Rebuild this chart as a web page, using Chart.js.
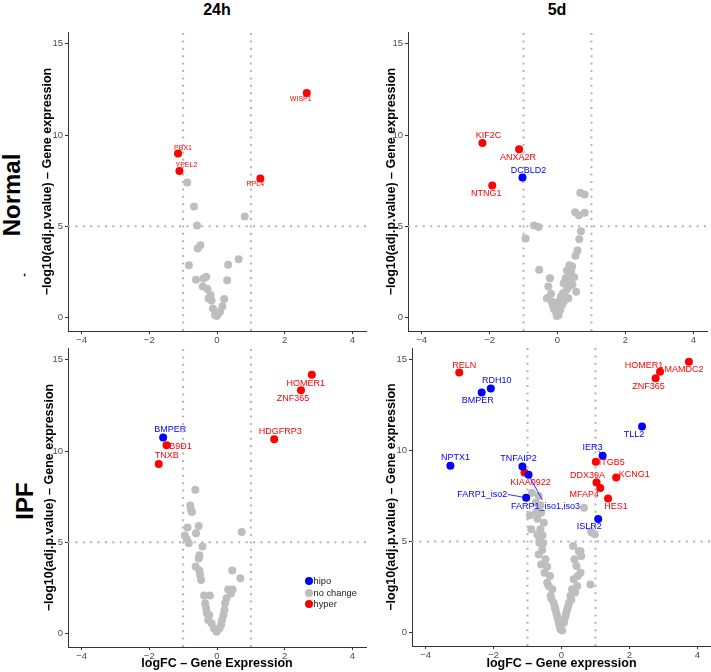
<!DOCTYPE html>
<html>
<head>
<meta charset="utf-8">
<script src="https://cdn.jsdelivr.net/npm/chart.js@4.4.1/dist/chart.umd.min.js"></script>
<style>
  body { margin: 0; width: 711px; height: 672px; background: #fff; position: relative; overflow: hidden;
         font-family: "Liberation Sans", Arial, sans-serif; }
  canvas { position: absolute; }
  .strip { position: absolute; font-weight: bold; color: #000; white-space: nowrap; line-height: 1;
           transform: translate(-50%, -50%); }
  .row { transform: translate(-50%, -50%) rotate(-90deg); }
  .key { position: absolute; left: 304.5px; top: 576px; font-size: 9.3px; color: #1a1a1a; line-height: 11.5px; }
  .key i { display: inline-block; width: 8px; height: 8px; border-radius: 50%; margin-right: 1px; vertical-align: -1px; }
</style>
</head>
<body>
<div class="strip" style="left:217px;top:10px;font-size:16px">24h</div>
<div class="strip" style="left:557px;top:10px;font-size:16px">5d</div>
<div class="strip row" style="left:11.5px;top:195px;font-size:24px">Normal</div>
<div class="strip row" style="left:23px;top:275px;font-size:11px">-</div>
<div class="strip row" style="left:24.5px;top:501px;font-size:24px">IPF</div>

<canvas id="n24" width="329" height="324" style="left:39px;top:24px"></canvas>
<canvas id="n5d" width="326" height="324" style="left:383px;top:24px"></canvas>
<canvas id="ipf24" width="327" height="332" style="left:41px;top:340px"></canvas>
<canvas id="ipf5d" width="328" height="332" style="left:383px;top:340px"></canvas>

<div class="key">
  <div><i style="background:#0000ff"></i>hipo</div>
  <div><i style="background:#bebebe"></i>no change</div>
  <div><i style="background:#ff0000"></i>hyper</div>
</div>

<script>
// axes
const xTicks = [-4, -2, 0, 2, 4];
const yTicks = [0, 5, 10, 15];
const xMin = -4.4, xMax = 4.4;
const yMin = -0.75, yMax = 15.65;
const logFcCut = 1;     // dotted lines at +-1
const pvalCut = 5;      // dotted line at 5

// labelled genes: [name, logFC, -log10(adj.p), direction]
const n24Genes = [
  ['WISP1', 2.65, 12.30, 'hyper'],
  ['PBX1', -1.15, 8.98, 'hyper'],
  ['YPEL2', -1.11, 8.02, 'hyper'],
  ['RPL4', 1.28, 7.62, 'hyper']
];
const n5dGenes = [
  ['KIF2C', -2.21, 9.56, 'hyper'],
  ['ANXA2R', -1.13, 9.22, 'hyper'],
  ['DCBLD2', -1.03, 7.67, 'hipo'],
  ['NTNG1', -1.92, 7.23, 'hyper']
];
const ipf24Genes = [
  ['HOMER1', 2.80, 14.18, 'hyper'],
  ['ZNF365', 2.48, 13.33, 'hyper'],
  ['HDGFRP3', 1.69, 10.65, 'hyper'],
  ['BMPER', -1.59, 10.74, 'hipo'],
  ['B9D1', -1.49, 10.32, 'hyper'],
  ['TNXB', -1.72, 9.29, 'hyper']
];
const ipf5dGenes = [
  ['MAMDC2', 3.75, 14.89, 'hyper'],
  ['HOMER1', 2.90, 14.34, 'hyper'],
  ['ZNF365', 2.77, 13.99, 'hyper'],
  ['RELN', -3.01, 14.30, 'hyper'],
  ['RDH10', -2.08, 13.42, 'hipo'],
  ['BMPER', -2.35, 13.20, 'hipo'],
  ['TLL2', 2.37, 11.33, 'hipo'],
  ['IER3', 1.21, 9.72, 'hipo'],
  ['ITGB5', 1.01, 9.39, 'hyper'],
  ['DDX39A', 1.03, 8.25, 'hyper'],
  ['KCNG1', 1.61, 8.53, 'hyper'],
  ['MFAP4', 1.14, 7.94, 'hyper'],
  ['HES1', 1.37, 7.37, 'hyper'],
  ['ISLR2', 1.08, 6.24, 'hipo'],
  ['NPTX1', -3.27, 9.17, 'hipo'],
  ['TNFAIP2', -1.15, 9.13, 'hipo'],
  ['KIAA0922', -1.09, 8.80, 'hyper'],
  ['FARP1_iso1,iso3', -0.97, 8.67, 'hipo'],
  ['FARP1_iso2', -1.04, 7.41, 'hipo']
];

// unchanged genes: [logFC, -log10(adj.p)]
const n24Rest = [
  [-0.88, 7.40], [-0.68, 6.08], [0.82, 5.53], [-0.59, 5.03], [-0.49, 3.95], [-0.57, 3.77],
  [0.64, 3.18], [-0.83, 2.86], [0.33, 2.88], [-0.62, 2.06], [-0.32, 2.22], [-0.40, 2.13],
  [0.30, 2.04], [-0.42, 1.69], [-0.28, 1.56], [-0.19, 1.23], [-0.25, 1.03], [-0.16, 0.92],
  [0.21, 1.01], [0.16, 0.61], [-0.12, 0.48], [0.09, 0.31], [-0.01, 0.07], [0.03, 0.18], [-0.06, 0.13]
];
const n5dRest = [
  [0.67, 6.83], [0.80, 6.74], [0.52, 5.76], [0.63, 5.60], [0.80, 5.73], [-0.69, 5.03], [-0.56, 4.96],
  [0.69, 4.72], [-0.94, 4.33], [0.64, 4.28], [0.59, 3.67], [0.53, 3.38], [0.35, 2.85], [0.43, 2.79],
  [0.28, 2.57], [0.40, 2.52], [-0.54, 2.61], [-0.22, 2.15], [0.24, 2.15], [0.35, 2.09], [0.28, 1.96],
  [0.44, 1.78], [-0.27, 1.69], [0.55, 1.40], [-0.19, 1.29], [-0.31, 1.05], [0.16, 1.32], [0.23, 1.14],
  [0.32, 1.05], [-0.14, 0.68], [-0.10, 0.44], [-0.04, 0.26], [-0.02, 0.07], [0.03, 0.11], [0.08, 0.40],
  [0.13, 0.68], [0.18, 0.86], [0.26, 1.05], [-0.17, 0.86], [0.28, 1.54], [0.37, 2.33], [0.49, 2.20],
  [0.18, 1.87], [0.33, 1.69], [0.10, 1.14], [0.03, 0.86], [-0.07, 0.59]
];
const ipf24Rest = [
  [-0.64, 7.87], [-0.79, 7.01], [-0.77, 6.77], [-0.74, 6.66], [-0.54, 5.89], [-0.87, 5.80],
  [-0.62, 5.49], [0.73, 5.56], [-0.95, 5.36], [-0.89, 5.16], [-0.83, 4.94], [-0.43, 4.76],
  [-0.52, 4.28], [-0.54, 4.10], [-0.63, 3.66], [-0.52, 3.44], [-0.50, 3.20], [-0.47, 2.93],
  [0.45, 3.44], [0.69, 3.02], [0.33, 2.41], [0.46, 2.41], [0.41, 2.19], [0.28, 1.92],
  [-0.38, 2.07], [-0.21, 2.07], [-0.35, 1.65], [-0.32, 1.37], [-0.30, 1.10], [-0.26, 0.73],
  [0.24, 1.65], [0.22, 1.28], [0.19, 1.01], [0.15, 0.73], [-0.16, 0.55], [-0.09, 0.27],
  [-0.01, 0.09], [0.07, 0.27], [0.12, 0.46], [-0.23, 1.01]
];
const ipf5dRest = [
  [-0.87, 7.68], [-0.67, 7.50], [-0.76, 7.13], [-0.62, 6.99], [-0.74, 6.62], [-0.60, 6.58],
  [-0.71, 6.25], [-0.52, 6.03], [-0.62, 5.67], [-0.56, 5.34], [-0.65, 5.08], [-0.54, 4.90],
  [-0.93, 6.44], [-0.89, 5.67], [-0.71, 5.39], [-0.65, 4.93], [-0.57, 4.53], [-0.67, 4.29],
  [-0.47, 4.02], [-0.60, 3.74], [-0.42, 3.61], [-0.50, 3.28], [-0.34, 3.10], [-0.42, 2.73],
  [-0.27, 2.37], [-0.32, 2.00], [-0.23, 1.63], [-0.18, 1.27], [-0.13, 0.90], [-0.08, 0.53],
  [-0.03, 0.17], [-0.38, 2.55], [-0.30, 1.85], [-0.20, 1.40], [-0.15, 1.05], [-0.10, 0.70],
  [-0.05, 0.35], [0.66, 6.86], [0.87, 5.57], [0.34, 4.75], [0.51, 4.47], [0.58, 4.20],
  [0.38, 4.02], [0.85, 2.64], [0.56, 4.47], [0.44, 3.65], [0.56, 3.28], [0.36, 2.92],
  [0.46, 2.55], [0.31, 2.37], [0.26, 2.00], [0.22, 1.63], [0.17, 1.27], [0.12, 0.90],
  [0.07, 0.53], [0.02, 0.10], [0.29, 1.80], [0.40, 2.20], [0.20, 1.45], [0.14, 1.10],
  [0.09, 0.72], [0.48, 3.10], [0.98, 5.40], [0.89, 5.50]
];

// label placement (pixel nudge from point; optional segment end)
const n24Nudge = { WISP1: [-6, 6], PBX1: [5, -6], YPEL2: [7, -6], RPL4: [-5, 6] };
const n5dNudge = { KIF2C: [6, -8], ANXA2R: [-1, 8], DCBLD2: [6, -7], NTNG1: [-6, 8] };
const ipf24Nudge = { HOMER1: [-6, 9], ZNF365: [-8, 8], HDGFRP3: [6, -8], BMPER: [7, -8], B9D1: [14, 1], TNXB: [8, -8] };
const ipf5dNudge = {
  MAMDC2: [-5, 8], HOMER1: [-16, -6], ZNF365: [-7, 8], RELN: [5, -7], RDH10: [6, -8], BMPER: [-4, 8],
  TLL2: [-8, 8], IER3: [-10, -8, -1, -1, -4, -5], ITGB5: [16, 1], DDX39A: [-9, -7], KCNG1: [18, -3],
  MFAP4: [-16, 6], HES1: [8, 8], ISLR2: [-9, 8], NPTX1: [5, -8], TNFAIP2: [-4, -8], KIAA0922: [6, 10],
  'FARP1_iso1,iso3': [17, 32, 0, 0, 13.7, 25], FARP1_iso2: [-44, -3, 0, 0, -18.5, -3.3]
};

const grey = '#bebebe', red = '#ff0000', blue = '#0000ff', axisCol = '#333333';
const fontFam = '"Liberation Sans", Arial, sans-serif';
Chart.defaults.font.family = fontFam;

const geneLabels = {
  id: 'geneLabels',
  afterDatasetsDraw(chart, args, opts) {
    const ctx = chart.ctx;
    chart.data.datasets.forEach((ds, i) => {
      if (!ds.names) return;
      const meta = chart.getDatasetMeta(i);
      ctx.save();
      ctx.font = opts.size + 'px ' + fontFam;
      ctx.fillStyle = ds.backgroundColor;
      ctx.strokeStyle = ds.backgroundColor;
      ctx.lineWidth = 0.8;
      ctx.textAlign = 'center';
      ctx.textBaseline = 'middle';
      meta.data.forEach((pt, j) => {
        const nd = opts.nudge[ds.names[j]] || [0, -7];
        if (nd.length > 2) {
          ctx.beginPath();
          ctx.moveTo(pt.x + nd[2], pt.y + nd[3]);
          ctx.lineTo(pt.x + nd[4], pt.y + nd[5]);
          ctx.stroke();
        }
        ctx.fillText(ds.names[j], pt.x + nd[0], pt.y + nd[1]);
      });
      ctx.restore();
    });
  }
};

function guide(v, dir) {
  const pts = dir === 'v' ? [{x: v, y: yMin}, {x: v, y: yMax}] : [{x: xMin, y: v}, {x: xMax, y: v}];
  return {
    type: 'line', data: pts, borderColor: '#b3b3b3', borderWidth: 2, borderDash: [2, 5.4],
    borderCapStyle: 'butt', pointRadius: 0, fill: false, order: 10
  };
}

function tickText(v) {
  return v < 0 ? '\u2212' + Math.abs(v) : String(v);
}

function volcano(id, rest, genes, nudge, o) {
  const hyper = genes.filter(g => g[3] === 'hyper');
  const hipo = genes.filter(g => g[3] === 'hipo');
  new Chart(document.getElementById(id), {
    type: 'scatter',
    data: {
      datasets: [
        guide(-logFcCut, 'v'), guide(logFcCut, 'v'), guide(pvalCut, 'h'),
        { data: rest.map(p => ({x: p[0], y: p[1]})), backgroundColor: grey, order: 3 },
        { data: hyper.map(g => ({x: g[1], y: g[2]})), names: hyper.map(g => g[0]), backgroundColor: red, order: 2 },
        { data: hipo.map(g => ({x: g[1], y: g[2]})), names: hipo.map(g => g[0]), backgroundColor: blue, order: 1 }
      ]
    },
    options: {
      responsive: false,
      animation: false,
      events: [],
      elements: { point: { radius: 4, borderWidth: 0 } },
      layout: { autoPadding: false, padding: { top: 8, right: o.right, left: 0, bottom: 0 } },
      plugins: {
        legend: { display: false },
        tooltip: { enabled: false },
        geneLabels: { size: o.labelSize, nudge: nudge }
      },
      scales: {
        x: {
          type: 'linear', min: xMin, max: xMax,
          afterBuildTicks: s => { s.ticks = xTicks.map(v => ({value: v})); },
          afterFit: s => { s.height = o.xHeight; },
          border: { display: true, color: axisCol, width: 1 },
          grid: { drawOnChartArea: false, drawTicks: true, tickLength: 3, color: axisCol },
          ticks: { color: '#4d4d4d', font: { size: 9.5 }, padding: 1, maxRotation: 0, callback: tickText },
          title: { display: !!o.xTitle, text: o.xTitle || '', color: '#000',
                   font: { size: 12.5, weight: 'bold' }, padding: { top: 0, bottom: 0.5 } }
        },
        y: {
          type: 'linear', min: yMin, max: yMax,
          afterBuildTicks: s => { s.ticks = yTicks.map(v => ({value: v})); },
          afterFit: s => { s.width = o.yWidth; },
          border: { display: true, color: axisCol, width: 1 },
          grid: { drawOnChartArea: false, drawTicks: true, tickLength: 3, color: axisCol },
          ticks: { color: '#4d4d4d', font: { size: 9.5 }, padding: 2, callback: tickText },
          title: { display: true, text: '\u2212log10(adj.p.value) \u2013 Gene expression', color: '#000',
                   font: { size: 12.5, weight: 'bold' }, padding: { top: 1.5, bottom: 0 } }
        }
      }
    },
    plugins: [geneLabels]
  });
}

volcano('n24', n24Rest, n24Genes, n24Nudge, { yWidth: 29, xHeight: 17, right: 2, labelSize: 7 });
volcano('n5d', n5dRest, n5dGenes, n5dNudge, { yWidth: 25, xHeight: 17, right: 2, labelSize: 9 });
volcano('ipf24', ipf24Rest, ipf24Genes, ipf24Nudge,
        { yWidth: 27, xHeight: 25, right: 2, labelSize: 9, xTitle: 'logFC \u2013 Gene Expression' });
volcano('ipf5d', ipf5dRest, ipf5dGenes, ipf5dNudge,
        { yWidth: 29, xHeight: 26, right: 0, labelSize: 9, xTitle: 'logFC \u2013 Gene expression' });
</script>
</body>
</html>
